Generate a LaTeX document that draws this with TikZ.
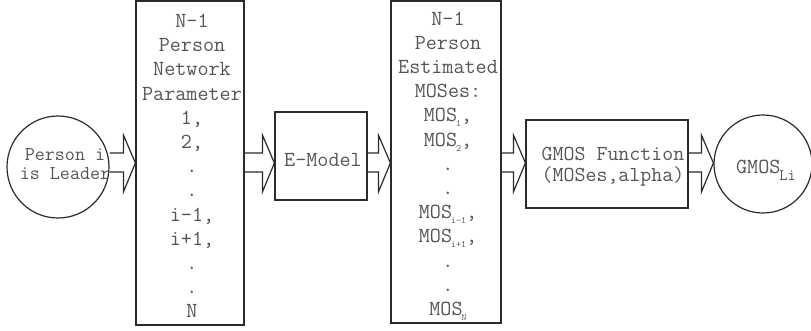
\documentclass[tikz,border=0pt]{standalone}
\usetikzlibrary{calc}
\definecolor{ink}{HTML}{2B2B2B}
\definecolor{txt}{HTML}{555555}

% small lowered index after the preceding letter
\newcommand\idx[1]{\kern-1pt\raisebox{-5pt}{\fontsize{9.5}{9.5}\selectfont #1}}

% block arrow from the right side of #1 to the left side of #2
\newcommand\flowarrow[2]{%
  \draw[arrowline] (#1.east |- sa) -- ($(#2.west |- sa)+(-12,0)$)
    -- ($(#2.west |- ha)+(-12,0)$) -- (#2.west |- tip)
    -- ($(#2.west |- hb)+(-12,0)$) -- ($(#2.west |- sb)+(-12,0)$)
    -- (#1.east |- sb);}

\begin{document}
\begin{tikzpicture}[x=1pt,y=-1pt,
  frame/.style={draw=ink, line width=1.2pt, rectangle, inner sep=0pt},
  ring/.style={draw=ink, line width=1.2pt, circle, inner sep=0pt},
  boxtext/.style={text=txt, font=\ttfamily\fontsize{21.5}{24.2}\selectfont, align=center, inner sep=0pt},
  arrowline/.style={draw=ink, line width=1.2pt, line join=miter}]
\useasboundingbox (0,0) rectangle (811,330);

% levels of the block arrows
\coordinate (sa) at (0,153);
\coordinate (sb) at (0,172);
\coordinate (ha) at (0,135);
\coordinate (hb) at (0,192);
\coordinate (tip) at (0,163);

% shapes
\node[ring, minimum size=102pt] (lead) at (58,167) {};
\node[frame, minimum width=108pt, minimum height=324pt] (params) at (190,163) {};
\node[frame, minimum width=92pt, minimum height=88pt] (emodel) at (321,156) {};
\node[frame, minimum width=110pt, minimum height=322pt] (moses) at (446,162) {};
\node[frame, minimum width=162pt, minimum height=88pt] (gfun) at (607,164) {};
\node[ring, minimum size=98pt] (gmos) at (763,164) {};

% texts
\node[boxtext, font=\ttfamily\fontsize{19.5}{18.5}\selectfont] (leadtext) at (65,164) {Person i\\is Leader};
\node[boxtext] (paramtext) at (192,166) {N-1\\Person\\Network\\Parameter\\1,\\2,\\.\\.\\i-1,\\i+1,\\.\\.\\N};
\node[boxtext] (emodeltext) at (323,160) {E-Model};
\node[boxtext] (mosestext) at (448,166) {N-1\\Person\\Estimated\\MOSes:\\MOS\idx{1},\\MOS\idx{2},\\.\\.\\MOS\idx{i-1},\\MOS\idx{i+1},\\.\\.\\MOS\idx{N}};
\node[boxtext, font=\ttfamily\fontsize{21.3}{21}\selectfont] (gfuntext) at (613,167) {GMOS Function\\(MOSes,alpha)};
\node[boxtext] (gmostext) at (766,170) {GMOS\kern-1pt\raisebox{-7pt}{\fontsize{16}{16}\selectfont Li}};

% connectors
\flowarrow{lead}{params}
\flowarrow{params}{emodel}
\flowarrow{emodel}{moses}
\flowarrow{moses}{gfun}
\flowarrow{gfun}{gmos}
\end{tikzpicture}
\end{document}
